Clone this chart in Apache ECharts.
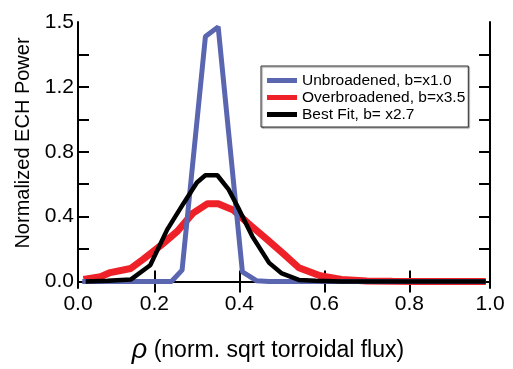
<!DOCTYPE html>
<html>
<head>
<meta charset="utf-8">
<script src="https://cdn.jsdelivr.net/npm/echarts@6/dist/echarts.min.js"></script>
<style>
html,body{margin:0;padding:0;background:#fff;}
#c{width:513px;height:369px;}
</style>
</head>
<body>
<div id="c"></div>
<script>
// Data (x = rho, y = normalized power)
const unbroadenedX = [0.03, 0.06, 0.09, 0.12, 0.15, 0.18, 0.21, 0.24, 0.265, 0.32, 0.35, 0.407, 0.44, 0.47, 0.52, 0.58, 0.64, 0.70, 0.76, 0.82, 0.88, 0.94, 0.98];
const unbroadenedY = [0, 0, 0, 0, 0, 0, 0, 0, 0.07, 1.51, 1.57, 0.06, 0.005, 0, 0, 0, 0, 0, 0, 0, 0, 0, 0];

const overX = [0.033, 0.073, 0.096, 0.144, 0.175, 0.214, 0.254, 0.29, 0.325, 0.35, 0.386, 0.42, 0.465, 0.504, 0.54, 0.59, 0.64, 0.70, 0.76, 0.82, 0.88, 0.94, 0.98];
const overY = [0.012, 0.03, 0.055, 0.08, 0.14, 0.22, 0.31, 0.42, 0.48, 0.48, 0.44, 0.36, 0.26, 0.17, 0.085, 0.036, 0.012, 0.003, 0.001, 0, 0, 0, 0];

const bestX = [0.038, 0.09, 0.144, 0.19, 0.23, 0.268, 0.30, 0.32, 0.348, 0.374, 0.40, 0.43, 0.47, 0.50, 0.54, 0.58, 0.64, 0.70, 0.76, 0.82, 0.88, 0.94, 0.98];
const bestY = [0, 0.004, 0.012, 0.1, 0.32, 0.48, 0.61, 0.655, 0.655, 0.57, 0.44, 0.28, 0.115, 0.05, 0.01, 0.004, 0, 0, 0, 0, 0, 0, 0];

const seriesNames = ['Unbroadened, b=x1.0', 'Overbroadened, b=x3.5', 'Best Fit, b= x2.7'];
const xLabelValues = [0.02, 0.2, 0.4, 0.6, 0.8, 0.99];
const xLabelTexts = ['0.0', '0.2', '0.4', '0.6', '0.8', '1.0'];
const yLabelValues = [0, 0.4, 0.8, 1.2, 1.6];
const yLabelTexts = ['0.0', '0.4', '0.8', '1.2', '1.5'];
const xTickValues = [0.2, 0.4, 0.6, 0.8];
const yTickValues = [0, 0.2, 0.4, 0.6, 0.8, 1.0, 1.2, 1.4];

const zip = (xs, ys) => xs.map((x, i) => [x, ys[i]]);
const FONT = '"Liberation Sans", Arial, Helvetica, sans-serif';

const chart = echarts.init(document.getElementById('c'), null, {renderer: 'canvas'});
const xRange = {min: 0.02, max: 0.99};
const yRange = {min: -0.04, max: 1.6};
const lineAxis = {show: true, lineStyle: {color: '#000', width: 2}};

chart.setOption({
  animation: false,
  backgroundColor: '#fff',
  textStyle: {fontFamily: FONT},
  grid: {left: 78, right: 23, top: 22, bottom: 76, containLabel: false},
  legend: {
    orient: 'vertical',
    left: 261, top: 66,
    data: seriesNames,
    icon: 'rect',
    itemWidth: 30, itemHeight: 5,
    itemGap: 0,
    padding: [6, 3, 4, 6],
    borderColor: '#333', borderWidth: 1,
    backgroundColor: '#fff',
    shadowColor: 'rgba(0,0,0,0.45)', shadowBlur: 1, shadowOffsetX: 1, shadowOffsetY: 1,
    textStyle: {fontFamily: FONT, fontSize: 15.5, color: '#000', lineHeight: 17}
  },
  xAxis: [{
    type: 'value', position: 'bottom', min: xRange.min, max: xRange.max,
    axisLine: lineAxis,
    splitLine: {show: false},
    axisTick: {show: true, inside: true, length: 11, lineStyle: {color: '#000', width: 2}, customValues: xTickValues},
    axisLabel: {
      customValues: xLabelValues, margin: 6,
      fontSize: 21, color: '#000', fontFamily: FONT,
      formatter: v => { const i = xLabelValues.findIndex(a => Math.abs(a - v) < 1e-6); return i >= 0 ? xLabelTexts[i] : ''; }
    },
    name: '{r|ρ} (norm. sqrt torroidal flux)',
    nameLocation: 'middle', nameGap: 49,
    nameTextStyle: {fontSize: 23, color: '#000', fontFamily: FONT, padding: [0, 32, 0, 0],
      rich: {r: {fontSize: 27, fontStyle: 'italic', fontFamily: FONT, color: '#000'}}}
  }, {
    type: 'value', position: 'top', min: xRange.min, max: xRange.max,
    axisLine: lineAxis, splitLine: {show: false},
    axisTick: {show: true, inside: true, length: 11, lineStyle: {color: '#000', width: 2}, customValues: xTickValues},
    axisLabel: {show: false}
  }],
  yAxis: [{
    type: 'value', position: 'left', min: yRange.min, max: yRange.max,
    axisLine: lineAxis, splitLine: {show: false},
    axisTick: {show: true, inside: true, length: 11, lineStyle: {color: '#000', width: 2}, customValues: yTickValues},
    axisLabel: {
      customValues: yLabelValues, margin: 4,
      fontSize: 21, color: '#000', fontFamily: FONT,
      formatter: v => { const i = yLabelValues.findIndex(a => Math.abs(a - v) < 1e-6); return i >= 0 ? yLabelTexts[i] : ''; }
    },
    name: 'Normalized ECH Power',
    nameLocation: 'middle', nameGap: 45,
    nameTextStyle: {fontSize: 20, color: '#000', fontFamily: FONT, padding: [0, 0, 0, 24]}
  }, {
    type: 'value', position: 'right', min: yRange.min, max: yRange.max,
    axisLine: lineAxis, splitLine: {show: false},
    axisTick: {show: true, inside: true, length: 11, lineStyle: {color: '#000', width: 2}, customValues: yTickValues},
    axisLabel: {show: false}
  }],
  series: [{
    name: seriesNames[1], type: 'line', data: zip(overX, overY), z: 2,
    showSymbol: false, symbol: 'none',
    lineStyle: {color: '#ed2127', width: 7}, itemStyle: {color: '#ed2127'}
  }, {
    name: seriesNames[0], type: 'line', data: zip(unbroadenedX, unbroadenedY), z: 3,
    showSymbol: false, symbol: 'none',
    lineStyle: {color: '#5b66b1', width: 5}, itemStyle: {color: '#5b66b1'}
  }, {
    name: seriesNames[2], type: 'line', data: zip(bestX, bestY), z: 4,
    showSymbol: false, symbol: 'none',
    lineStyle: {color: '#000', width: 4.5}, itemStyle: {color: '#000'}
  }]
});
</script>
</body>
</html>
